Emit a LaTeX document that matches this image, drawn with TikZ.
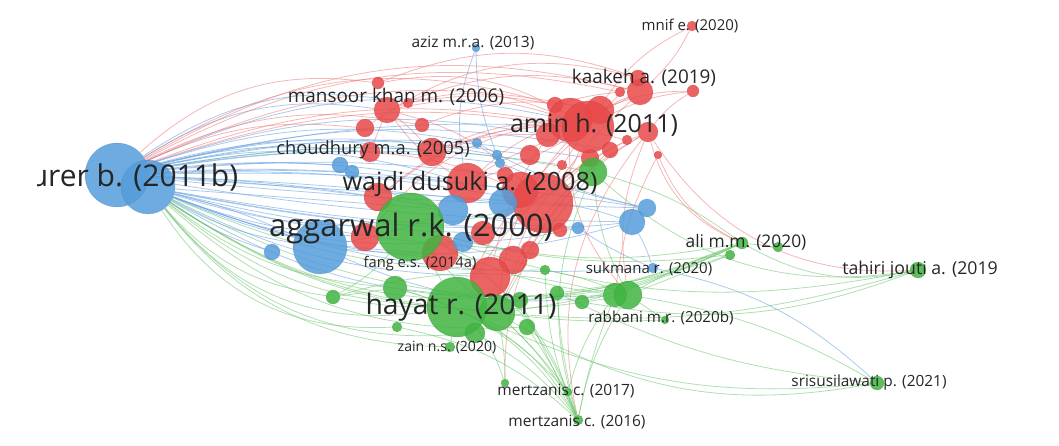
\documentclass[tikz,border=0pt]{standalone}
\usepackage{fontspec}
\setmainfont{Open Sans}
\pgfdeclarelayer{bg}
\pgfsetlayers{bg,main}
\definecolor{vb}{RGB}{84,156,218}
\definecolor{vr}{RGB}{232,72,72}
\definecolor{vg}{RGB}{64,180,64}
\definecolor{lb}{RGB}{100,158,222}
\definecolor{lr}{RGB}{236,110,110}
\definecolor{lg}{RGB}{110,196,110}
\tikzset{
  bub/.style={circle,inner sep=0pt,fill opacity=0.85,draw opacity=0.25,line width=0.5pt},
  eb/.style={draw=lb,line width=0.8pt,opacity=0.55},
  er/.style={draw=lr,line width=0.8pt,opacity=0.5},
  eg/.style={draw=lg,line width=0.8pt,opacity=0.55},
  lbl/.style={inner sep=0pt,text=black!85},
  fs/.style={font=\fontsize{#1}{#1}\selectfont}
}
\begin{document}
\begin{tikzpicture}[x=1pt,y=-1pt]
\useasboundingbox (0,0) rectangle (1059,446);
% bubbles
\foreach \n/\x/\y/\r/\c in {
 u1/117/175/32/vb, u2/148/187/27/vb, bL/320/247/27/vb, bL2/272/252/8/vb,
 bc1/340/165/8/vb, bc2/352/172/7/vb, az/476/48/4/vb, bt1/477/143/5/vb,
 bt2/497/155/5/vb, bt3/500/163/5/vb,
 m1/387/110/13/vr, m2/378/83/6/vr, m3/408/103/5/vr, m4/365/128/9/vr,
 m5/422/125/7/vr, c1/370/152/10/vr, c2/432/152/14/vr,
 w9/520/190/18/vr, a9/530/155/10/vr, a8/505/175/8/vr, a10/555/105/8/vr,
 a11/590/158/9/vr, a12/548/135/12/vr, a13/600/110/14/vr,
 w1/467/183/20/vr, w2/543/203/30/vr, w3/378/197/14/vr, w4/365/237/14/vr,
 w5/440/253/18/vr, w6/483/233/12/vr, w7/513/260/14/vr, w8/490/277/20/vr,
 w10/530/250/9/vr, w11/560/230/7/vr,
 a1/570/120/22/vr, a2/588/127/26/vr, a3/648/132/10/vr, a4/627/140/5/vr,
 a5/610/150/8/vr, a6/658/155/4/vr, a7/562/165/5/vr,
 k1/640/92/13/vr, k2/638/78/8/vr, k3/693/91/6/vr, k4/620/92/5/vr, mn/692/26/5/vr,
 bm1/453/210/15/vb, bm2/463/242/10/vb, bm3/503/203/14/vb,
 br1/632/222/13/vb, br2/647/208/9/vb, br3/578/228/6/vb, sk/653/268/5/vb,
 g1/410/227/34/vg, h1/457/307/30/vg, h2/497/313/18/vg, h3/395/288/12/vg,
 h4/333/297/7/vg, h5/397/327/5/vg, h6/527/327/8/vg, h7/557/293/7/vg,
 h8/582/302/7/vg, hb/520/300/8/vg, gs/475/333/10/vg, h9/545/270/5/vg,
 r1/615/295/12/vg, r2/628/295/14/vg, gz/450/347/5/vg, gw/593/172/14/vg,
 al1/742/243/6/vg, al2/730/255/5/vg, al3/778/247/5/vg, th/918/270/8/vg,
 sr/877/383/7/vg, mz1/505/383/4/vg, mz2/568/392/4/vg, mz3/578/420/5/vg,
 rb/665/320/4/vg}
 \node[bub,fill=\c,draw=\c!70!black,minimum size=2*\r pt] (\n) at (\x,\y) {};
% connectors
\begin{pgfonlayer}{bg}
\foreach \a/\b/\c/\k in {
 u1/m1/eb/20, u1/m2/er/25, u1/c1/eb/10, u1/c2/eb/12, u1/w1/eb/8, u1/w2/eb/6,
 u1/a1/eb/18, u1/a2/er/15, u1/bt1/eb/14, u1/bt2/eb/12, u1/bm1/eb/4, u1/bm3/eb/2,
 u1/br1/eb/-4, u1/br2/eb/5, u1/k1/er/22, u1/gw/eg/10, u1/w9/eb/5,
 u1/m4/er/15, u1/m5/er/18, u1/a9/eb/10, u1/a8/eb/6, u1/bc1/eb/5,
 u1/bc2/eb/3, u1/bt3/eb/8, u1/w3/eb/2, u1/a7/eb/9, u1/a5/eb/12, u1/a4/er/16,
 u1/k4/er/20, u1/a10/er/24, u1/m3/eb/22, u1/a12/eb/14, u1/a13/er/18,
 u1/a11/eb/10, u1/c2/eb/5, u1/w1/eb/14, u1/w2/eb/0, u1/a2/eb/8, u1/br2/eb/-2,
 u2/bL/eb/-10, u2/g1/eb/-8, u2/w5/eb/-10, u2/w6/eb/-6, u2/bm2/eb/-12,
 u2/w4/eb/-8, u2/h1/eg/-18, u2/h2/eg/-14, u2/h3/eg/-16, u2/w8/eb/-12,
 u2/w7/eb/-10, u2/r1/eg/-15, u2/sk/eb/-12, u2/h4/eg/-20, u2/gz/eg/-25,
 u2/br3/eb/-6, u2/h6/eg/-22, u2/hb/eb/-14, u2/bL2/eb/-8, u2/gs/eg/-28,
 u2/g1/eb/-2, u2/w10/eb/-6, u2/w11/eb/-4, u2/bm1/eb/0, u2/h5/eg/-30,
 u2/h1/eg/-30, u2/h9/eg/-12, u2/r2/eg/-22, u2/h7/eg/-20, u2/bL/eb/5,
 a2/k1/er/10, a2/mn/er/15, k1/mn/er/-10, a2/k3/er/10, a1/w1/er/-10, a2/w2/er/10,
 m1/a2/er/15, m1/a1/er/20, m2/a2/er/20, m1/w1/er/-10, m1/c1/er/0, m1/c2/er/5,
 c2/a1/er/10, w1/a2/er/-5, w2/a3/er/10, a3/h2/er/-20, a3/mz3/er/-25,
 a3/r2/er/-15, a3/al1/er/-25, a6/al1/er/-20, a2/h1/er/-10, a5/h2/er/-10,
 k1/w2/er/-5, k1/a1/er/5, a2/g1/er/-10, m1/w2/er/15, c1/w2/er/10, w3/a2/er/20,
 w4/a1/er/20, a3/mz1/er/-30, a1/r2/er/-20, k3/a3/er/-10, a3/th/er/-30,
 m3/a10/er/10, m4/k2/er/25, a10/k4/er/5, a6/r1/er/-10, m2/k2/er/20,
 m5/a13/er/15, c2/a12/er/10, w3/a1/er/15, a13/k3/er/10, a12/w8/er/-10,
 a11/w7/er/-15, a13/h2/er/-20, k2/w2/er/-10, m1/k1/er/18, a4/h1/er/-15,
 az/bt2/eb/-10, az/w1/eb/-15, sk/sr/eb/15, bm3/br1/eb/10, br1/sk/eb/5,
 bL/bm1/eb/-5, bm1/br1/eb/-10, bt1/br2/eb/-8, bL/r1/eb/-15, br3/sk/eb/-5,
 bL/br1/eb/-10, bm2/br3/eb/-5, bc1/bm1/eb/-10, bt3/br2/eb/-5,
 g1/h1/eg/0, h1/mz3/eg/15, h1/mz1/eg/10, h2/mz3/eg/10, r2/mz3/eg/-10,
 h1/sr/eg/-15, r2/sr/eg/10, g1/th/eg/-15, h2/th/eg/-10, r2/al1/eg/5,
 al1/th/eg/-20, al1/al3/eg/0, h1/al1/eg/-8, gw/al1/eg/10, g1/al2/eg/-10,
 h1/rb/eg/-5, h3/mz3/eg/20, h4/h1/eg/-5, g1/mz3/eg/20, gw/mz3/eg/-20,
 h3/mz2/eg/15, h2/mz2/eg/5, r1/mz2/eg/-10, w8/mz3/eg/10, h6/mz3/eg/5,
 gz/h1/eg/0, gw/r2/eg/-10, h4/r1/eg/15, g1/r1/eg/-10, h3/al1/eg/-15,
 h7/al2/eg/-5, h8/th/eg/-15, h2/sr/eg/-20, gw/th/eg/-25, h5/mz3/eg/15,
 hb/al1/eg/-10, g1/gw/eg/-10, r2/rb/eg/0, h7/sr/eg/-10,
 r1/mz3/eg/-5, hb/mz3/eg/0, h7/mz3/eg/-5, h9/mz3/eg/-10, gs/mz3/eg/10,
 h4/h3/eg/0, h4/g1/eg/-10, g1/al1/eg/-12, h2/al1/eg/-8, r2/al2/eg/0,
 gw/h2/eg/-5, h9/r2/eg/5, h8/al1/eg/-5, mz1/h2/eg/-5, g1/h2/eg/-5}
 \draw[\c] (\a) to[bend left=\k] (\b);
\end{pgfonlayer}
% labels
\begin{scope}
\clip (37,140) rectangle (300,215);
\node[lbl,fs=30] (t1) at (134,177) {urer b. (2011b)};
\end{scope}
\node[lbl,fs=15.5] (t2) at (473,43) {aziz m.r.a. (2013)};
\node[lbl,fs=15] (t3) at (690,26) {mnif e. (2020)};
\node[lbl,fs=18.9] (t4) at (644,78) {kaakeh a. (2019)};
\node[lbl,fs=18.9] (t5) at (396,97) {mansoor khan m. (2006)};
\node[lbl,fs=25] (t6) at (594,125) {amin h. (2011)};
\node[lbl,fs=18.3] (t7) at (373,150) {choudhury m.a. (2005)};
\node[lbl,fs=25.2] (t8) at (470,184) {wajdi dusuki a. (2008)};
\node[lbl,fs=31] (t9) at (411,228) {aggarwal r.k. (2000)};
\node[lbl,fs=14.7] (t10) at (420,264) {fang e.s. (2014a)};
\node[lbl,fs=15] (t11) at (649,269) {sukmana r. (2020)};
\node[lbl,fs=17.4] (t12) at (746,242) {ali m.m. (2020)};
\node[lbl,fs=17.7] (t13) at (920,270) {tahiri jouti a. (2019};
\node[lbl,fs=28.3] (t14) at (461,307) {hayat r. (2011)};
\node[lbl,fs=15.2] (t15) at (661,318) {rabbani m.r. (2020b)};
\node[lbl,fs=14.1] (t16) at (447,347) {zain n.s. (2020)};
\node[lbl,fs=15.4] (t17) at (869,382) {srisusilawati p. (2021)};
\node[lbl,fs=15.5] (t18) at (566,391) {mertzanis c. (2017)};
\node[lbl,fs=15.5] (t19) at (577,422) {mertzanis c. (2016)};
\end{tikzpicture}
\end{document}
